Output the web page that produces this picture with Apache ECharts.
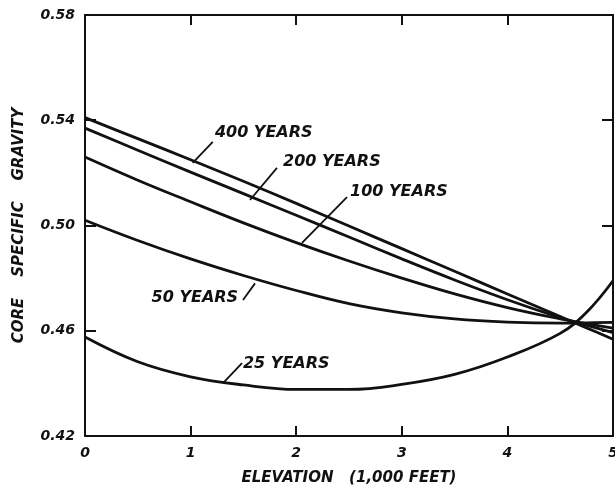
<!DOCTYPE html>
<html>
<head>
<meta charset="utf-8">
<script src="https://cdn.jsdelivr.net/npm/echarts@6/dist/echarts.min.js"></script>
<style>html,body{margin:0;padding:0;background:#fff}#c{width:615px;height:489px}</style>
</head>
<body>
<div id="c"></div>
<script>
// Elevation (1,000 feet)
const elev = [0, 0.5, 1, 1.5, 2, 2.5, 3, 3.5, 4, 4.5, 4.75, 5];
// Core specific gravity per stand age
const y400 = [0.541, 0.533, 0.525, 0.5168, 0.5084, 0.4998, 0.4912, 0.4826, 0.474, 0.4654, 0.4611, 0.4568];
const y200 = [0.537, 0.5286, 0.5203, 0.5121, 0.5039, 0.4956, 0.4873, 0.4793, 0.4718, 0.465, 0.4621, 0.4593];
const y100 = [0.526, 0.5172, 0.509, 0.501, 0.4935, 0.4865, 0.480, 0.474, 0.4688, 0.4645, 0.4627, 0.461];
const y50  = [0.502, 0.4943, 0.4873, 0.481, 0.4753, 0.4703, 0.4668, 0.4645, 0.4633, 0.4629, 0.463, 0.4632];
const y25  = [0.4576, 0.4482, 0.4425, 0.4394, 0.4377, 0.4377, 0.4396, 0.4434, 0.4500, 0.4590, 0.4670, 0.479];
const seriesNames = ['400 YEARS', '200 YEARS', '100 YEARS', '50 YEARS', '25 YEARS'];
const seriesVals = [y400, y200, y100, y50, y25];
const yTicks = [0.42, 0.46, 0.50, 0.54, 0.58];
// Annotation placement in data units: leader start/end, text anchor
const labelLeaders = [
  [[1.02, 0.5238], [1.21, 0.5318]],
  [[1.5625, 0.5097], [1.818, 0.5219]],
  [[2.055, 0.4934], [2.481, 0.5108]],
  [[1.61, 0.4780], [1.496, 0.4717]],
  [[1.307, 0.4401], [1.487, 0.4477]]
];
const labelAnchors = [
  [[1.23, 0.5352], 'left'],
  [[1.875, 0.5241], 'left'],
  [[2.51, 0.5127], 'left'],
  [[1.45, 0.4725], 'right'],
  [[1.496, 0.4474], 'left']
];

const FONT = 'DejaVu Sans';
const chart = echarts.init(document.getElementById('c'), null, {renderer: 'canvas'});
const tickStyle = {fontFamily: FONT, fontStyle: 'italic', fontWeight: 'bold', fontSize: 14, color: '#111'};
const axLine = {show: true, onZero: false, lineStyle: {color: '#111', width: 2}};
const tick = {show: true, inside: true, length: 10, lineStyle: {color: '#111', width: 2}};

chart.setOption({
  animation: false,
  backgroundColor: '#fff',
  grid: {left: 85, right: 2, top: 15, bottom: 53, containLabel: false, outerBoundsMode: 'none'},
  xAxis: [{
    type: 'value', min: 0, max: 5, interval: 1,
    name: 'ELEVATION   (1,000 FEET)', nameLocation: 'middle', nameGap: 35,
    nameTextStyle: {fontFamily: FONT, fontStyle: 'italic', fontWeight: 'bold', fontSize: 15, color: '#111'},
    axisLine: axLine, axisTick: tick,
    axisLabel: Object.assign({margin: 10, formatter: v => String(v)}, tickStyle),
    splitLine: {show: false}
  }, {
    type: 'value', min: 0, max: 5, interval: 1, position: 'top',
    axisLine: axLine, axisTick: tick,
    axisLabel: {show: false}, splitLine: {show: false}
  }],
  yAxis: [{
    type: 'value', min: 0.42, max: 0.58,
    name: 'CORE    SPECIFIC    GRAVITY', nameLocation: 'middle', nameGap: 58, nameRotate: 90,
    nameTextStyle: {fontFamily: FONT, fontStyle: 'italic', fontWeight: 'bold', fontSize: 15, color: '#111'},
    axisLine: axLine,
    axisTick: Object.assign({customValues: yTicks}, tick, {length: 11}),
    axisLabel: Object.assign({margin: 10, customValues: yTicks, formatter: v => v.toFixed(2)}, tickStyle),
    splitLine: {show: false}
  }, {
    type: 'value', min: 0.42, max: 0.58, position: 'right',
    axisLine: axLine,
    axisTick: Object.assign({customValues: yTicks}, tick, {length: 11}),
    axisLabel: {show: false, customValues: yTicks}, splitLine: {show: false}
  }],
  series: seriesVals.map((vals, i) => ({
    name: seriesNames[i], type: 'line', smooth: 0.4, symbol: 'none',
    xAxisIndex: 0, yAxisIndex: 0,
    lineStyle: {color: '#111', width: 2.8},
    data: elev.map((x, j) => [x, vals[j]])
  }))
});

const g = [];
labelLeaders.forEach((seg, i) => {
  const a = chart.convertToPixel({gridIndex: 0}, seg[0]);
  const b = chart.convertToPixel({gridIndex: 0}, seg[1]);
  g.push({type: 'line', shape: {x1: a[0], y1: a[1], x2: b[0], y2: b[1]}, style: {stroke: '#111', lineWidth: 1.8}});
  const p = chart.convertToPixel({gridIndex: 0}, labelAnchors[i][0]);
  g.push({type: 'text', x: p[0], y: p[1], style: {
    text: seriesNames[i], fontFamily: FONT, fontStyle: 'italic', fontWeight: 'bold', fontSize: 16,
    fill: '#111', align: labelAnchors[i][1], verticalAlign: 'middle'}});
});
chart.setOption({graphic: g});
</script>
</body>
</html>
